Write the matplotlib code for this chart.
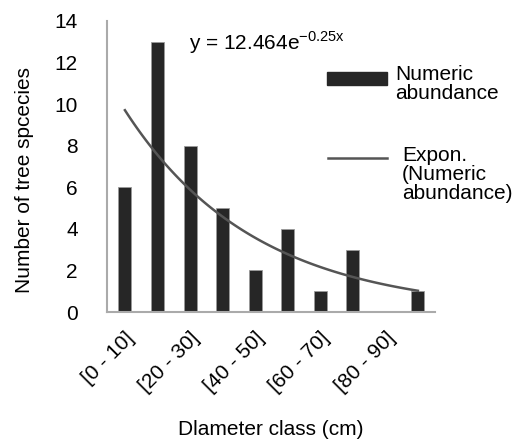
import numpy as np
import matplotlib
matplotlib.use("Agg")
import matplotlib.pyplot as plt
from matplotlib.patches import Rectangle
from matplotlib.lines import Line2D

# classes de diametre i nombre d'especies
classes = ["[0 - 10]", "[10 - 20]", "[20 - 30]", "[30 - 40]", "[40 - 50]",
           "[50 - 60]", "[60 - 70]", "[70 - 80]", "[80 - 90]", "[90 - 100]"]
abundance = [6, 13, 8, 5, 2, 4, 1, 3, 0, 1]
fit_a = 12.464
fit_b = -0.25

plt.rcParams['font.family'] = ['Liberation Sans', 'DejaVu Sans']

fig = plt.figure(figsize=(5.17, 4.41), dpi=100)
ax = fig.add_axes([0.207, 0.2925, 0.634, 0.66])

x = np.arange(len(classes))
ax.bar(x, abundance, width=0.4, color='#262626', edgecolor='#9a9a9a',
       linewidth=0.6, zorder=2)

# linia de tendencia exponencial
xt = np.linspace(1, len(classes), 100)
yt = fit_a * np.exp(fit_b * xt)
ax.plot(xt - 1, yt, color='#555555', linewidth=1.8, zorder=3)

ax.set_xlim(-0.55, 9.52)
ax.set_ylim(0, 14)
ax.set_yticks(range(0, 15, 2))
ax.set_xticks(x[::2])
ax.set_xticklabels(classes[::2], rotation=45, ha='right', rotation_mode='anchor')
ax.tick_params(length=0, labelsize=15)
ax.tick_params(axis='y', pad=21)
ax.tick_params(axis='x', pad=12)

for s in ['top', 'right']:
    ax.spines[s].set_visible(False)
ax.spines['left'].set_color('#aaaaaa')
ax.spines['bottom'].set_color('#aaaaaa')
ax.spines['left'].set_linewidth(1.5)
ax.spines['bottom'].set_linewidth(1.5)

ax.set_ylabel('Number of tree spcecies', fontsize=15)
ax.yaxis.set_label_coords(-0.222, 0.454)
ax.set_xlabel('Dlameter class (cm)', fontsize=15, labelpad=17)

ax.text(1.98, 12.95, r'y = 12.464e$^{\mathregular{-0.25x}}$', fontsize=15, va='center')

# llegenda feta a ma (estil Excel)
fig.patches.append(Rectangle((0.6325, 0.807), 0.116, 0.0295, color='#262626',
                             transform=fig.transFigure, figure=fig))
fig.text(0.764, 0.852, 'Numeric\nabundance', fontsize=15, va='top', linespacing=1.0)
fig.lines.append(Line2D([0.634, 0.749], [0.642, 0.642], color='#555555',
                        linewidth=1.8, transform=fig.transFigure, figure=fig))
fig.text(0.778, 0.669, 'Expon.\n(Numeric\nabundance)', fontsize=15, va='top', linespacing=1.0)

fig.savefig('out.png', dpi=100)
